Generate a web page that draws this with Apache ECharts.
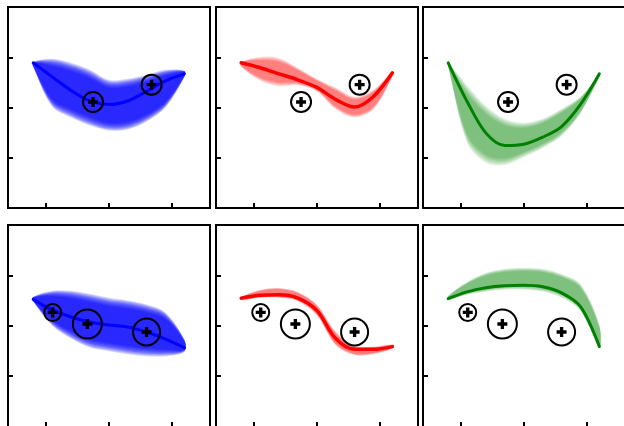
<!DOCTYPE html>
<html><head><meta charset="utf-8">
<script src="https://cdn.jsdelivr.net/npm/echarts@6/dist/echarts.min.js"></script>
<style>html,body{margin:0;padding:0;background:#fff;overflow:hidden}#c{width:624px;height:426px}</style>
</head><body><div id="c"></div>
<script>
// ---- data ----
const xs = [-1.2, -0.9, -0.6, -0.3, 0, 0.3, 0.6, 0.9, 1.2];
const tickValues = [-1, 0, 1];

// top-left (blue)
const tlLine  = [0.89, 0.61, 0.34, 0.13, 0.06, 0.13, 0.32, 0.53, 0.67];
const tlUpper = [0.91, 0.97, 0.89, 0.75, 0.55, 0.57, 0.65, 0.75, 0.73];
const tlLower = [0.81, 0.02, -0.20, -0.36, -0.46, -0.44, -0.28, 0.00, 0.61];
// top-middle (red)
const tmLine  = [0.89, 0.79, 0.67, 0.55, 0.40, 0.16, 0.01, 0.22, 0.69];
const tmUpper = [0.91, 1.01, 0.99, 0.79, 0.57, 0.40, 0.22, 0.36, 0.71];
const tmLower = [0.81, 0.53, 0.42, 0.44, 0.32, -0.04, -0.20, -0.04, 0.61];
// top-right (green)
const trLine  = [0.89, 0.12, -0.51, -0.755, -0.73, -0.59, -0.38, 0.06, 0.67];
const trUpper = [0.89, 0.45, 0.04, -0.22, -0.30, -0.22, -0.02, 0.22, 0.65];
const trLower = [0.81, -0.71, -1.11, -1.15, -0.99, -0.81, -0.57, -0.12, 0.61];
// bottom-left (blue)
const blLine  = [0.52, 0.31, 0.17, 0.07, 0.01, -0.03, -0.13, -0.27, -0.44];
const blUpper = [0.57, 0.69, 0.69, 0.63, 0.55, 0.50, 0.42, 0.26, -0.28];
const blLower = [0.48, 0.00, -0.26, -0.44, -0.51, -0.57, -0.61, -0.61, -0.52];
// bottom-middle (red)
const bmLine  = [0.545, 0.60, 0.61, 0.545, 0.30, -0.26, -0.475, -0.475, -0.42];
const bmUpper = [0.57, 0.71, 0.75, 0.67, 0.42, -0.12, -0.40, -0.42, -0.38];
const bmLower = [0.50, 0.55, 0.55, 0.48, 0.20, -0.40, -0.59, -0.57, -0.46];
// bottom-right (green)
const brLine  = [0.535, 0.67, 0.75, 0.79, 0.80, 0.77, 0.65, 0.375, -0.42];
const brUpper = [0.59, 0.87, 1.05, 1.13, 1.15, 1.13, 1.03, 0.83, 0.02];
const brLower = [0.51, 0.61, 0.67, 0.71, 0.71, 0.67, 0.55, 0.28, -0.44];

// observation markers
const topPtsX = [-0.25, 0.68];
const topPtsY = [0.11, 0.455];
const topPtsW = [0.71, 0.71];
const botPtsX = [-0.89, -0.34, 0.60];
const botPtsY = [0.26, 0.03, -0.13];
const botPtsW = [0.6, 1.0, 0.92];

// ---- styling / layout ----
const gridLefts = [8, 216, 423];
const gridTops = [7, 225];
const unitX = 63, unitY = 50.25;
const panels = [
  {line: tlLine, upper: tlUpper, lower: tlLower, color: '#0000ff', rgb: '0,0,255', alpha: 0.165, lw: 3, row: 0, col: 0},
  {line: tmLine, upper: tmUpper, lower: tmLower, color: '#ff0000', rgb: '255,0,0', alpha: 0.068, lw: 3.5, row: 0, col: 1},
  {line: trLine, upper: trUpper, lower: trLower, color: '#008000', rgb: '0,128,0', alpha: 0.068, lw: 3, row: 0, col: 2},
  {line: blLine, upper: blUpper, lower: blLower, color: '#0000ff', rgb: '0,0,255', alpha: 0.165, lw: 3, row: 1, col: 0},
  {line: bmLine, upper: bmUpper, lower: bmLower, color: '#ff0000', rgb: '255,0,0', alpha: 0.068, lw: 3.5, row: 1, col: 1},
  {line: brLine, upper: brUpper, lower: brLower, color: '#008000', rgb: '0,128,0', alpha: 0.068, lw: 3, row: 1, col: 2}
];

const grids = [], xAxes = [], yAxes = [], series = [];
const tickStyle = {show: true, inside: true, length: 5, lineStyle: {color: '#000', width: 2}, customValues: tickValues};

function bandRenderer(p) {
  return function (params, api) {
    if (params.dataIndex !== 0) return null;
    const children = [];
    const N = 10;
    for (let k = 0; k < N; k++) {
      const f = 1 - k * 0.035;
      const pts = [];
      for (let i = 0; i < xs.length; i++) {
        const m = (p.upper[i] + p.lower[i]) / 2, h = (p.upper[i] - p.lower[i]) / 2 * f;
        pts.push(api.coord([xs[i], m + h]));
      }
      for (let i = xs.length - 1; i >= 0; i--) {
        const m = (p.upper[i] + p.lower[i]) / 2, h = (p.upper[i] - p.lower[i]) / 2 * f;
        pts.push(api.coord([xs[i], m - h]));
      }
      children.push({type: 'polygon', shape: {points: pts, smooth: 0.33},
        style: {fill: 'rgba(' + p.rgb + ',' + p.alpha + ')'}});
    }
    return {type: 'group', children: children};
  };
}

const plusPath = 'path://M3,0H6V3H9V6H6V9H3V6H0V3H3Z';

panels.forEach(function (p, i) {
  // right column and bottom row reach just past the canvas edge (cropped figure)
  const w = 202;
  const h = p.row === 0 ? 201 : 202;
  const xMin = -1.6, xMax = xMin + w / unitX;
  const yMax = 2, yMin = yMax - h / unitY;
  grids.push({left: gridLefts[p.col], top: gridTops[p.row], width: w, height: h,
    outerBoundsMode: 'none',
    show: true, borderColor: '#000', borderWidth: 2, backgroundColor: 'rgba(0,0,0,0)', containLabel: false});
  xAxes.push({type: 'value', gridIndex: i, min: xMin, max: xMax, position: 'bottom',
    axisLine: {show: false, onZero: false},
    axisLabel: {show: false}, splitLine: {show: false}, axisTick: tickStyle});
  yAxes.push({type: 'value', gridIndex: i, min: yMin, max: yMax, position: 'left',
    axisLine: {show: false, onZero: false},
    axisLabel: {show: false}, splitLine: {show: false}, axisTick: tickStyle});

  series.push({type: 'custom', xAxisIndex: i, yAxisIndex: i, z: 1, silent: true,
    renderItem: bandRenderer(p), data: [[xs[0], p.line[0]]]});
  series.push({type: 'line', xAxisIndex: i, yAxisIndex: i, z: 2, silent: true, smooth: 0.33,
    showSymbol: false, symbol: 'none', lineStyle: {color: p.color, width: p.lw, cap: 'round'},
    data: xs.map(function (x, j) { return [x, p.line[j]]; })});

  const px = p.row === 0 ? topPtsX : botPtsX;
  const py = p.row === 0 ? topPtsY : botPtsY;
  const pw = p.row === 0 ? topPtsW : botPtsW;
  const ptsData = px.map(function (x, j) { return [x, py[j], pw[j]]; });
  series.push({type: 'scatter', xAxisIndex: i, yAxisIndex: i, z: 3, silent: true, symbol: 'circle',
    symbolSize: function (v) { return Math.round(30 * v[2]) - 1; },
    itemStyle: {color: 'rgba(0,0,0,0)', borderColor: '#000', borderWidth: 2, opacity: 1},
    data: ptsData});
  series.push({type: 'scatter', xAxisIndex: i, yAxisIndex: i, z: 4, silent: true, symbol: plusPath,
    symbolSize: 10, itemStyle: {color: '#000', opacity: 1}, data: ptsData});
});

const chart = echarts.init(document.getElementById('c'), null, {renderer: 'canvas'});
chart.setOption({animation: false, backgroundColor: '#fff', grid: grids, xAxis: xAxes, yAxis: yAxes, series: series});
</script>
</body></html>
